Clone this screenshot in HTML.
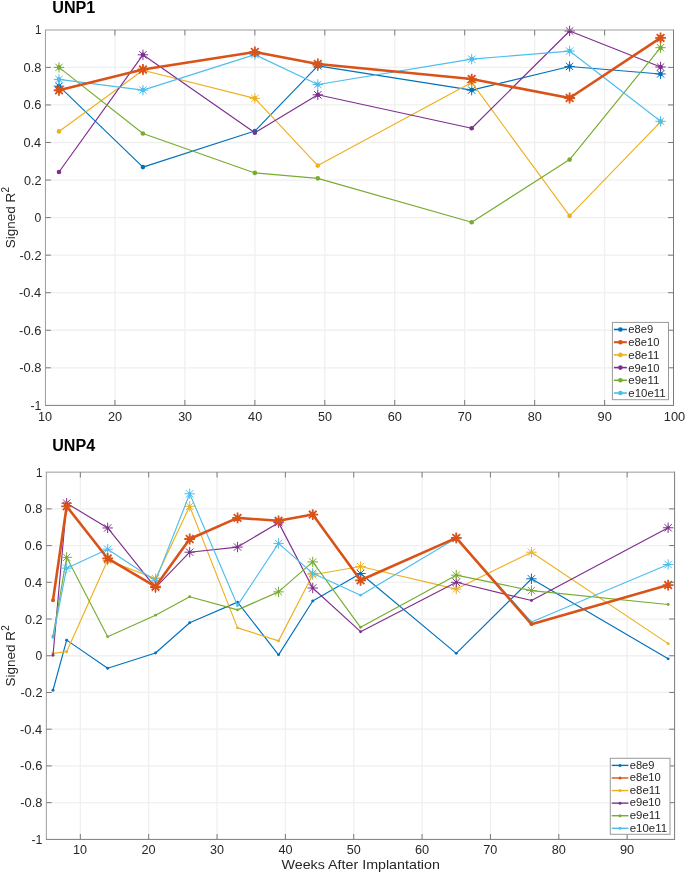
<!DOCTYPE html>
<html><head><meta charset="utf-8"><title>Signed R2</title>
<style>html,body{margin:0;padding:0;background:#fff;width:685px;height:873px;overflow:hidden}svg{display:block;will-change:transform}</style>
</head><body>
<svg width="685" height="873" viewBox="0 0 685 873">
<style>text{font-family:"Liberation Sans", sans-serif;fill:#262626}.ttl{font-weight:bold;fill:#000}.xl{font-size:13px}</style>
<path d="M114.95 30V405.4M184.9 30V405.4M254.85 30V405.4M324.8 30V405.4M394.75 30V405.4M464.7 30V405.4M534.65 30V405.4M604.6 30V405.4M45.45 67.4H673.5M45.45 104.95H673.5M45.45 142.5H673.5M45.45 180.05H673.5M45.45 217.6H673.5M45.45 255.15H673.5M45.45 292.7H673.5M45.45 330.25H673.5M45.45 367.8H673.5" stroke="#f0f0f0" stroke-width="1.3" fill="none"/>
<polyline points="58.99,86.18 142.93,167.1 254.85,131.05 317.8,65.9 471.69,90.12 569.62,66.46 660.56,73.97" fill="none" stroke="#0072BD" stroke-width="1.15" stroke-linejoin="round" stroke-linecap="round"/>
<circle cx="58.99" cy="86.18" r="2.3" fill="#0072BD"/>
<circle cx="142.93" cy="167.1" r="2.3" fill="#0072BD"/>
<circle cx="254.85" cy="131.05" r="2.3" fill="#0072BD"/>
<circle cx="317.8" cy="65.9" r="2.3" fill="#0072BD"/>
<circle cx="471.69" cy="90.12" r="2.3" fill="#0072BD"/>
<circle cx="569.62" cy="66.46" r="2.3" fill="#0072BD"/>
<circle cx="660.56" cy="73.97" r="2.3" fill="#0072BD"/>
<path d="M53.79 86.18H64.19 M58.99 80.98V91.38 M55.31 82.5L62.67 89.85 M55.31 89.85L62.67 82.5M312.6 65.9H323 M317.8 60.7V71.1 M314.13 62.22L321.48 69.57 M314.13 69.57L321.48 62.22M466.49 90.12H476.89 M471.69 84.92V95.32 M468.02 86.44L475.37 93.79 M468.02 93.79L475.37 86.44M564.42 66.46H574.83 M569.62 61.26V71.66 M565.95 62.78L573.3 70.14 M565.95 70.14L573.3 62.78M655.36 73.97H665.76 M660.56 68.77V79.17 M656.88 70.29L664.24 77.65 M656.88 77.65L664.24 70.29" stroke="#0072BD" stroke-width="1.0" fill="none"/>
<polyline points="58.99,131.42 142.93,70.22 254.85,98.38 317.8,165.59 471.69,82.42 569.62,215.91 660.56,121.85" fill="none" stroke="#EDB120" stroke-width="1.15" stroke-linejoin="round" stroke-linecap="round"/>
<circle cx="58.99" cy="131.42" r="2.3" fill="#EDB120"/>
<circle cx="142.93" cy="70.22" r="2.3" fill="#EDB120"/>
<circle cx="254.85" cy="98.38" r="2.3" fill="#EDB120"/>
<circle cx="317.8" cy="165.59" r="2.3" fill="#EDB120"/>
<circle cx="471.69" cy="82.42" r="2.3" fill="#EDB120"/>
<circle cx="569.62" cy="215.91" r="2.3" fill="#EDB120"/>
<circle cx="660.56" cy="121.85" r="2.3" fill="#EDB120"/>
<path d="M137.73 70.22H148.13 M142.93 65.02V75.42 M139.25 66.54L146.61 73.89 M139.25 73.89L146.61 66.54M249.65 98.38H260.05 M254.85 93.18V103.58 M251.17 94.7L258.53 102.06 M251.17 102.06L258.53 94.7M466.49 82.42H476.89 M471.69 77.22V87.62 M468.02 78.74L475.37 86.1 M468.02 86.1L475.37 78.74" stroke="#EDB120" stroke-width="1.0" fill="none"/>
<polyline points="58.99,171.98 142.93,54.82 254.85,132.74 317.8,94.81 471.69,128.23 569.62,30.98 660.56,67.02" fill="none" stroke="#7E2F8E" stroke-width="1.15" stroke-linejoin="round" stroke-linecap="round"/>
<circle cx="58.99" cy="171.98" r="2.3" fill="#7E2F8E"/>
<circle cx="142.93" cy="54.82" r="2.3" fill="#7E2F8E"/>
<circle cx="254.85" cy="132.74" r="2.3" fill="#7E2F8E"/>
<circle cx="317.8" cy="94.81" r="2.3" fill="#7E2F8E"/>
<circle cx="471.69" cy="128.23" r="2.3" fill="#7E2F8E"/>
<circle cx="569.62" cy="30.98" r="2.3" fill="#7E2F8E"/>
<circle cx="660.56" cy="67.02" r="2.3" fill="#7E2F8E"/>
<path d="M137.73 54.82H148.13 M142.93 49.62V60.02 M139.25 51.14L146.61 58.5 M139.25 58.5L146.61 51.14M312.6 94.81H323 M317.8 89.61V100.01 M314.13 91.13L321.48 98.49 M314.13 98.49L321.48 91.13M564.42 30.98H574.83 M569.62 25.78V36.18 M565.95 27.3L573.3 34.65 M565.95 34.65L573.3 27.3M655.36 67.02H665.76 M660.56 61.82V72.22 M656.88 63.35L664.24 70.7 M656.88 70.7L664.24 63.35" stroke="#7E2F8E" stroke-width="1.0" fill="none"/>
<polyline points="58.99,67.4 142.93,133.49 254.85,172.92 317.8,178.36 471.69,222.29 569.62,159.59 660.56,47.69" fill="none" stroke="#77AC30" stroke-width="1.15" stroke-linejoin="round" stroke-linecap="round"/>
<circle cx="58.99" cy="67.4" r="2.3" fill="#77AC30"/>
<circle cx="142.93" cy="133.49" r="2.3" fill="#77AC30"/>
<circle cx="254.85" cy="172.92" r="2.3" fill="#77AC30"/>
<circle cx="317.8" cy="178.36" r="2.3" fill="#77AC30"/>
<circle cx="471.69" cy="222.29" r="2.3" fill="#77AC30"/>
<circle cx="569.62" cy="159.59" r="2.3" fill="#77AC30"/>
<circle cx="660.56" cy="47.69" r="2.3" fill="#77AC30"/>
<path d="M53.79 67.4H64.19 M58.99 62.2V72.6 M55.31 63.72L62.67 71.08 M55.31 71.08L62.67 63.72M655.36 47.69H665.76 M660.56 42.49V52.89 M656.88 44.01L664.24 51.36 M656.88 51.36L664.24 44.01" stroke="#77AC30" stroke-width="1.0" fill="none"/>
<polyline points="58.99,79.42 142.93,90.12 254.85,54.63 317.8,84.49 471.69,59.14 569.62,51.07 660.56,121.28" fill="none" stroke="#4DBEEE" stroke-width="1.15" stroke-linejoin="round" stroke-linecap="round"/>
<circle cx="58.99" cy="79.42" r="2.3" fill="#4DBEEE"/>
<circle cx="142.93" cy="90.12" r="2.3" fill="#4DBEEE"/>
<circle cx="254.85" cy="54.63" r="2.3" fill="#4DBEEE"/>
<circle cx="317.8" cy="84.49" r="2.3" fill="#4DBEEE"/>
<circle cx="471.69" cy="59.14" r="2.3" fill="#4DBEEE"/>
<circle cx="569.62" cy="51.07" r="2.3" fill="#4DBEEE"/>
<circle cx="660.56" cy="121.28" r="2.3" fill="#4DBEEE"/>
<path d="M53.79 79.42H64.19 M58.99 74.22V84.62 M55.31 75.74L62.67 83.09 M55.31 83.09L62.67 75.74M137.73 90.12H148.13 M142.93 84.92V95.32 M139.25 86.44L146.61 93.79 M139.25 93.79L146.61 86.44M249.65 54.63H260.05 M254.85 49.43V59.83 M251.17 50.96L258.53 58.31 M251.17 58.31L258.53 50.96M312.6 84.49H323 M317.8 79.29V89.69 M314.13 80.81L321.48 88.16 M314.13 88.16L321.48 80.81M466.49 59.14H476.89 M471.69 53.94V64.34 M468.02 55.46L475.37 62.82 M468.02 62.82L475.37 55.46M564.42 51.07H574.83 M569.62 45.87V56.27 M565.95 47.39L573.3 54.74 M565.95 54.74L573.3 47.39M655.36 121.28H665.76 M660.56 116.08V126.48 M656.88 117.61L664.24 124.96 M656.88 124.96L664.24 117.61" stroke="#4DBEEE" stroke-width="1.0" fill="none"/>
<polyline points="58.99,90.31 142.93,69.47 254.85,52 317.8,64.02 471.69,79.04 569.62,98 660.56,37.92" fill="none" stroke="#D95319" stroke-width="2.6" stroke-linejoin="round" stroke-linecap="round"/>
<circle cx="58.99" cy="90.31" r="2.8" fill="#D95319"/>
<circle cx="142.93" cy="69.47" r="2.8" fill="#D95319"/>
<circle cx="254.85" cy="52" r="2.8" fill="#D95319"/>
<circle cx="317.8" cy="64.02" r="2.8" fill="#D95319"/>
<circle cx="471.69" cy="79.04" r="2.8" fill="#D95319"/>
<circle cx="569.62" cy="98" r="2.8" fill="#D95319"/>
<circle cx="660.56" cy="37.92" r="2.8" fill="#D95319"/>
<path d="M53.59 90.31H64.39 M58.99 84.91V95.71 M55.17 86.49L62.81 94.12 M55.17 94.12L62.81 86.49M137.53 69.47H148.33 M142.93 64.07V74.87 M139.11 65.65L146.75 73.28 M139.11 73.28L146.75 65.65M249.45 52H260.25 M254.85 46.6V57.4 M251.03 48.19L258.67 55.82 M251.03 55.82L258.67 48.19M312.4 64.02H323.2 M317.8 58.62V69.42 M313.99 60.2L321.62 67.84 M313.99 67.84L321.62 60.2M466.29 79.04H477.09 M471.69 73.64V84.44 M467.88 75.22L475.51 82.86 M467.88 82.86L475.51 75.22M564.23 98H575.02 M569.62 92.6V103.4 M565.81 94.18L573.44 101.82 M565.81 101.82L573.44 94.18M655.16 37.92H665.96 M660.56 32.52V43.32 M656.74 34.1L664.38 41.74 M656.74 41.74L664.38 34.1" stroke="#D95319" stroke-width="1.8" fill="none"/>
<path d="M44.95 405.4H674 M673.5 29.5V405.4" stroke="#7a7a7a" stroke-width="1" fill="none"/>
<path d="M44.95 30H673.5 M45.45 30V405.4" stroke="#9c9c9c" stroke-width="1" fill="none"/>
<path d="M114.95 405.4V400 M114.95 30V35.4M184.9 405.4V400 M184.9 30V35.4M254.85 405.4V400 M254.85 30V35.4M324.8 405.4V400 M324.8 30V35.4M394.75 405.4V400 M394.75 30V35.4M464.7 405.4V400 M464.7 30V35.4M534.65 405.4V400 M534.65 30V35.4M604.6 405.4V400 M604.6 30V35.4M45.45 67.4H50.85 M673.5 67.4H668.1M45.45 104.95H50.85 M673.5 104.95H668.1M45.45 142.5H50.85 M673.5 142.5H668.1M45.45 180.05H50.85 M673.5 180.05H668.1M45.45 217.6H50.85 M673.5 217.6H668.1M45.45 255.15H50.85 M673.5 255.15H668.1M45.45 292.7H50.85 M673.5 292.7H668.1M45.45 330.25H50.85 M673.5 330.25H668.1M45.45 367.8H50.85 M673.5 367.8H668.1" stroke="#7a7a7a" stroke-width="1" fill="none"/>
<text x="34.98" y="34.35" class="tk" font-size="12.6" textLength="6.44" lengthAdjust="spacingAndGlyphs">1</text>
<text x="23.61" y="71.90" class="tk" font-size="12.6" textLength="17.80" lengthAdjust="spacingAndGlyphs">0.8</text>
<text x="23.54" y="109.45" class="tk" font-size="12.6" textLength="17.87" lengthAdjust="spacingAndGlyphs">0.6</text>
<text x="23.47" y="147.00" class="tk" font-size="12.6" textLength="17.76" lengthAdjust="spacingAndGlyphs">0.4</text>
<text x="23.98" y="184.55" class="tk" font-size="12.6" textLength="17.50" lengthAdjust="spacingAndGlyphs">0.2</text>
<text x="34.58" y="222.10" class="tk" font-size="12.6" textLength="6.74" lengthAdjust="spacingAndGlyphs">0</text>
<text x="19.56" y="259.65" class="tk" font-size="12.6" textLength="21.93" lengthAdjust="spacingAndGlyphs">-0.2</text>
<text x="19.05" y="297.20" class="tk" font-size="12.6" textLength="22.18" lengthAdjust="spacingAndGlyphs">-0.4</text>
<text x="19.12" y="334.75" class="tk" font-size="12.6" textLength="22.30" lengthAdjust="spacingAndGlyphs">-0.6</text>
<text x="19.19" y="372.30" class="tk" font-size="12.6" textLength="22.22" lengthAdjust="spacingAndGlyphs">-0.8</text>
<text x="30.46" y="409.85" class="tk" font-size="12.6" textLength="11.00" lengthAdjust="spacingAndGlyphs">-1</text>
<text x="37.93" y="420.70" class="tk" font-size="12.6" textLength="14.06" lengthAdjust="spacingAndGlyphs">10</text>
<text x="108.00" y="420.70" class="tk" font-size="12.6" textLength="14.17" lengthAdjust="spacingAndGlyphs">20</text>
<text x="178.13" y="420.70" class="tk" font-size="12.6" textLength="13.96" lengthAdjust="spacingAndGlyphs">30</text>
<text x="248.11" y="420.70" class="tk" font-size="12.6" textLength="14.09" lengthAdjust="spacingAndGlyphs">40</text>
<text x="318.01" y="420.70" class="tk" font-size="12.6" textLength="13.98" lengthAdjust="spacingAndGlyphs">50</text>
<text x="387.77" y="420.70" class="tk" font-size="12.6" textLength="14.21" lengthAdjust="spacingAndGlyphs">60</text>
<text x="457.79" y="420.70" class="tk" font-size="12.6" textLength="14.07" lengthAdjust="spacingAndGlyphs">70</text>
<text x="527.75" y="420.70" class="tk" font-size="12.6" textLength="14.14" lengthAdjust="spacingAndGlyphs">80</text>
<text x="597.63" y="420.70" class="tk" font-size="12.6" textLength="14.25" lengthAdjust="spacingAndGlyphs">90</text>
<text x="663.81" y="420.70" class="tk" font-size="12.6" textLength="21.40" lengthAdjust="spacingAndGlyphs">100</text>
<text x="52.23" y="13.00" class="ttl" font-size="15.6" textLength="43.12" lengthAdjust="spacingAndGlyphs">UNP1</text>
<g transform="translate(14.6 247.65) rotate(-90)"><text x="-0.61" y="0.00" class="yl" font-size="13" textLength="55.44" lengthAdjust="spacingAndGlyphs">Signed R</text><text x="55.10" y="-5.80" class="sup" font-size="10.5" textLength="5.49" lengthAdjust="spacingAndGlyphs">2</text></g>
<rect x="612.4" y="322.4" width="56.1" height="77.3" fill="#fff" stroke="#9a9a9a" stroke-width="1"/>
<path d="M613.9 329.5H626.9" stroke="#0072BD" stroke-width="1.6"/>
<circle cx="620.4" cy="329.5" r="2.3" fill="#0072BD"/>
<text x="628.33" y="333.40" class="lg" font-size="10.0" textLength="24.77" lengthAdjust="spacingAndGlyphs">e8e9</text>
<path d="M613.9 342.2H626.9" stroke="#D95319" stroke-width="2.08"/>
<circle cx="620.4" cy="342.2" r="2.3" fill="#D95319"/>
<text x="628.33" y="346.10" class="lg" font-size="10.0" textLength="31.09" lengthAdjust="spacingAndGlyphs">e8e10</text>
<path d="M613.9 354.9H626.9" stroke="#EDB120" stroke-width="1.6"/>
<circle cx="620.4" cy="354.9" r="2.3" fill="#EDB120"/>
<text x="628.33" y="358.80" class="lg" font-size="10.0" textLength="30.93" lengthAdjust="spacingAndGlyphs">e8e11</text>
<path d="M613.9 367.6H626.9" stroke="#7E2F8E" stroke-width="1.6"/>
<circle cx="620.4" cy="367.6" r="2.3" fill="#7E2F8E"/>
<text x="628.33" y="371.50" class="lg" font-size="10.0" textLength="31.09" lengthAdjust="spacingAndGlyphs">e9e10</text>
<path d="M613.9 380.3H626.9" stroke="#77AC30" stroke-width="1.6"/>
<circle cx="620.4" cy="380.3" r="2.3" fill="#77AC30"/>
<text x="628.33" y="384.20" class="lg" font-size="10.0" textLength="30.93" lengthAdjust="spacingAndGlyphs">e9e11</text>
<path d="M613.9 393H626.9" stroke="#4DBEEE" stroke-width="1.6"/>
<circle cx="620.4" cy="393" r="2.3" fill="#4DBEEE"/>
<text x="628.33" y="396.90" class="lg" font-size="10.0" textLength="37.30" lengthAdjust="spacingAndGlyphs">e10e11</text>
<path d="M80.34 472.15V839.4M148.69 472.15V839.4M217.04 472.15V839.4M285.38 472.15V839.4M353.74 472.15V839.4M422.09 472.15V839.4M490.44 472.15V839.4M558.79 472.15V839.4M627.13 472.15V839.4M46.35 508.87H674.6M46.35 545.59H674.6M46.35 582.31H674.6M46.35 619.03H674.6M46.35 655.75H674.6M46.35 692.47H674.6M46.35 729.19H674.6M46.35 765.91H674.6M46.35 802.63H674.6" stroke="#f0f0f0" stroke-width="1.3" fill="none"/>
<polyline points="52.99,690.27 66.66,640.14 107.67,668.23 155.52,653 189.7,622.7 237.54,602.14 278.55,654.83 312.73,601.04 360.57,573.5 456.26,653.36 531.45,578.82 668.14,658.87" fill="none" stroke="#0072BD" stroke-width="1.15" stroke-linejoin="round" stroke-linecap="round"/>
<circle cx="52.99" cy="690.27" r="1.45" fill="#0072BD"/>
<circle cx="66.66" cy="640.14" r="1.45" fill="#0072BD"/>
<circle cx="107.67" cy="668.23" r="1.45" fill="#0072BD"/>
<circle cx="155.52" cy="653" r="1.45" fill="#0072BD"/>
<circle cx="189.7" cy="622.7" r="1.45" fill="#0072BD"/>
<circle cx="237.54" cy="602.14" r="1.45" fill="#0072BD"/>
<circle cx="278.55" cy="654.83" r="1.45" fill="#0072BD"/>
<circle cx="312.73" cy="601.04" r="1.45" fill="#0072BD"/>
<circle cx="360.57" cy="573.5" r="1.45" fill="#0072BD"/>
<circle cx="456.26" cy="653.36" r="1.45" fill="#0072BD"/>
<circle cx="531.45" cy="578.82" r="1.45" fill="#0072BD"/>
<circle cx="668.14" cy="658.87" r="1.45" fill="#0072BD"/>
<path d="M355.37 573.5H365.77 M360.57 568.3V578.7 M356.89 569.82L364.25 577.17 M356.89 577.17L364.25 569.82M526.25 578.82H536.65 M531.45 573.62V584.02 M527.77 575.14L535.12 582.5 M527.77 582.5L535.12 575.14" stroke="#0072BD" stroke-width="1.0" fill="none"/>
<polyline points="52.99,653.36 66.66,651.71 107.67,560.28 155.52,578.64 189.7,506.3 237.54,627.84 278.55,640.88 312.73,574.78 360.57,566.52 456.26,589.1 531.45,552.2 668.14,643.63" fill="none" stroke="#EDB120" stroke-width="1.15" stroke-linejoin="round" stroke-linecap="round"/>
<circle cx="52.99" cy="653.36" r="1.45" fill="#EDB120"/>
<circle cx="66.66" cy="651.71" r="1.45" fill="#EDB120"/>
<circle cx="107.67" cy="560.28" r="1.45" fill="#EDB120"/>
<circle cx="155.52" cy="578.64" r="1.45" fill="#EDB120"/>
<circle cx="189.7" cy="506.3" r="1.45" fill="#EDB120"/>
<circle cx="237.54" cy="627.84" r="1.45" fill="#EDB120"/>
<circle cx="278.55" cy="640.88" r="1.45" fill="#EDB120"/>
<circle cx="312.73" cy="574.78" r="1.45" fill="#EDB120"/>
<circle cx="360.57" cy="566.52" r="1.45" fill="#EDB120"/>
<circle cx="456.26" cy="589.1" r="1.45" fill="#EDB120"/>
<circle cx="531.45" cy="552.2" r="1.45" fill="#EDB120"/>
<circle cx="668.14" cy="643.63" r="1.45" fill="#EDB120"/>
<path d="M102.47 560.28H112.88 M107.67 555.08V565.48 M104 556.6L111.35 563.95 M104 563.95L111.35 556.6M150.32 578.64H160.72 M155.52 573.44V583.84 M151.84 574.96L159.2 582.31 M151.84 582.31L159.2 574.96M184.5 506.3H194.9 M189.7 501.1V511.5 M186.02 502.62L193.37 509.98 M186.02 509.98L193.37 502.62M307.53 574.78H317.93 M312.73 569.58V579.98 M309.05 571.11L316.4 578.46 M309.05 578.46L316.4 571.11M355.37 566.52H365.77 M360.57 561.32V571.72 M356.89 562.84L364.25 570.2 M356.89 570.2L364.25 562.84M451.06 589.1H461.46 M456.26 583.9V594.3 M452.58 585.43L459.94 592.78 M452.58 592.78L459.94 585.43M526.25 552.2H536.65 M531.45 547V557.4 M527.77 548.52L535.12 555.88 M527.77 555.88L535.12 548.52" stroke="#EDB120" stroke-width="1.0" fill="none"/>
<polyline points="52.99,655.2 66.66,503.18 107.67,527.96 155.52,587.63 189.7,552.2 237.54,547.06 278.55,522.64 312.73,588 360.57,631.7 456.26,582.31 531.45,600.49 668.14,527.78" fill="none" stroke="#7E2F8E" stroke-width="1.15" stroke-linejoin="round" stroke-linecap="round"/>
<circle cx="52.99" cy="655.2" r="1.45" fill="#7E2F8E"/>
<circle cx="66.66" cy="503.18" r="1.45" fill="#7E2F8E"/>
<circle cx="107.67" cy="527.96" r="1.45" fill="#7E2F8E"/>
<circle cx="155.52" cy="587.63" r="1.45" fill="#7E2F8E"/>
<circle cx="189.7" cy="552.2" r="1.45" fill="#7E2F8E"/>
<circle cx="237.54" cy="547.06" r="1.45" fill="#7E2F8E"/>
<circle cx="278.55" cy="522.64" r="1.45" fill="#7E2F8E"/>
<circle cx="312.73" cy="588" r="1.45" fill="#7E2F8E"/>
<circle cx="360.57" cy="631.7" r="1.45" fill="#7E2F8E"/>
<circle cx="456.26" cy="582.31" r="1.45" fill="#7E2F8E"/>
<circle cx="531.45" cy="600.49" r="1.45" fill="#7E2F8E"/>
<circle cx="668.14" cy="527.78" r="1.45" fill="#7E2F8E"/>
<path d="M61.46 503.18H71.86 M66.66 497.98V508.38 M62.99 499.5L70.34 506.86 M62.99 506.86L70.34 499.5M102.47 527.96H112.88 M107.67 522.76V533.16 M104 524.29L111.35 531.64 M104 531.64L111.35 524.29M150.32 587.63H160.72 M155.52 582.43V592.83 M151.84 583.96L159.2 591.31 M151.84 591.31L159.2 583.96M184.5 552.2H194.9 M189.7 547V557.4 M186.02 548.52L193.37 555.88 M186.02 555.88L193.37 548.52M232.34 547.06H242.74 M237.54 541.86V552.26 M233.86 543.38L241.22 550.74 M233.86 550.74L241.22 543.38M273.35 522.64H283.75 M278.55 517.44V527.84 M274.87 518.96L282.23 526.32 M274.87 526.32L282.23 518.96M307.53 588H317.93 M312.73 582.8V593.2 M309.05 584.32L316.4 591.68 M309.05 591.68L316.4 584.32M451.06 582.31H461.46 M456.26 577.11V587.51 M452.58 578.63L459.94 585.99 M452.58 585.99L459.94 578.63M662.94 527.78H673.35 M668.14 522.58V532.98 M664.47 524.1L671.82 531.46 M664.47 531.46L671.82 524.1" stroke="#7E2F8E" stroke-width="1.0" fill="none"/>
<polyline points="52.99,636.1 66.66,557.34 107.67,636.66 155.52,615.17 189.7,596.81 237.54,609.85 278.55,591.86 312.73,561.93 360.57,627.29 456.26,575.15 531.45,590.57 668.14,604.53" fill="none" stroke="#77AC30" stroke-width="1.15" stroke-linejoin="round" stroke-linecap="round"/>
<circle cx="52.99" cy="636.1" r="1.45" fill="#77AC30"/>
<circle cx="66.66" cy="557.34" r="1.45" fill="#77AC30"/>
<circle cx="107.67" cy="636.66" r="1.45" fill="#77AC30"/>
<circle cx="155.52" cy="615.17" r="1.45" fill="#77AC30"/>
<circle cx="189.7" cy="596.81" r="1.45" fill="#77AC30"/>
<circle cx="237.54" cy="609.85" r="1.45" fill="#77AC30"/>
<circle cx="278.55" cy="591.86" r="1.45" fill="#77AC30"/>
<circle cx="312.73" cy="561.93" r="1.45" fill="#77AC30"/>
<circle cx="360.57" cy="627.29" r="1.45" fill="#77AC30"/>
<circle cx="456.26" cy="575.15" r="1.45" fill="#77AC30"/>
<circle cx="531.45" cy="590.57" r="1.45" fill="#77AC30"/>
<circle cx="668.14" cy="604.53" r="1.45" fill="#77AC30"/>
<path d="M61.46 557.34H71.86 M66.66 552.14V562.54 M62.99 553.66L70.34 561.02 M62.99 561.02L70.34 553.66M273.35 591.86H283.75 M278.55 586.66V597.06 M274.87 588.18L282.23 595.53 M274.87 595.53L282.23 588.18M307.53 561.93H317.93 M312.73 556.73V567.13 M309.05 558.25L316.4 565.61 M309.05 565.61L316.4 558.25M451.06 575.15H461.46 M456.26 569.95V580.35 M452.58 571.47L459.94 578.83 M452.58 578.83L459.94 571.47M526.25 590.57H536.65 M531.45 585.37V595.77 M527.77 586.9L535.12 594.25 M527.77 594.25L535.12 586.9" stroke="#77AC30" stroke-width="1.0" fill="none"/>
<polyline points="52.99,637.39 66.66,568.17 107.67,549.26 155.52,580.84 189.7,493.81 237.54,605.44 278.55,543.39 312.73,573.31 360.57,595.16 456.26,538.25 531.45,621.97 668.14,564.5" fill="none" stroke="#4DBEEE" stroke-width="1.15" stroke-linejoin="round" stroke-linecap="round"/>
<circle cx="52.99" cy="637.39" r="1.45" fill="#4DBEEE"/>
<circle cx="66.66" cy="568.17" r="1.45" fill="#4DBEEE"/>
<circle cx="107.67" cy="549.26" r="1.45" fill="#4DBEEE"/>
<circle cx="155.52" cy="580.84" r="1.45" fill="#4DBEEE"/>
<circle cx="189.7" cy="493.81" r="1.45" fill="#4DBEEE"/>
<circle cx="237.54" cy="605.44" r="1.45" fill="#4DBEEE"/>
<circle cx="278.55" cy="543.39" r="1.45" fill="#4DBEEE"/>
<circle cx="312.73" cy="573.31" r="1.45" fill="#4DBEEE"/>
<circle cx="360.57" cy="595.16" r="1.45" fill="#4DBEEE"/>
<circle cx="456.26" cy="538.25" r="1.45" fill="#4DBEEE"/>
<circle cx="531.45" cy="621.97" r="1.45" fill="#4DBEEE"/>
<circle cx="668.14" cy="564.5" r="1.45" fill="#4DBEEE"/>
<path d="M61.46 568.17H71.86 M66.66 562.97V573.37 M62.99 564.5L70.34 571.85 M62.99 571.85L70.34 564.5M102.47 549.26H112.88 M107.67 544.06V554.46 M104 545.59L111.35 552.94 M104 552.94L111.35 545.59M150.32 580.84H160.72 M155.52 575.64V586.04 M151.84 577.16L159.2 584.52 M151.84 584.52L159.2 577.16M184.5 493.81H194.9 M189.7 488.61V499.01 M186.02 490.14L193.37 497.49 M186.02 497.49L193.37 490.14M273.35 543.39H283.75 M278.55 538.19V548.59 M274.87 539.71L282.23 547.06 M274.87 547.06L282.23 539.71M307.53 573.31H317.93 M312.73 568.11V578.51 M309.05 569.64L316.4 576.99 M309.05 576.99L316.4 569.64M451.06 538.25H461.46 M456.26 533.05V543.45 M452.58 534.57L459.94 541.92 M452.58 541.92L459.94 534.57M662.94 564.5H673.35 M668.14 559.3V569.7 M664.47 560.82L671.82 568.18 M664.47 568.18L671.82 560.82" stroke="#4DBEEE" stroke-width="1.0" fill="none"/>
<polyline points="52.99,600.3 66.66,506.3 107.67,558.44 155.52,586.53 189.7,538.98 237.54,517.87 278.55,520.8 312.73,514.56 360.57,580.29 456.26,537.88 531.45,624.17 668.14,585.06" fill="none" stroke="#D95319" stroke-width="2.6" stroke-linejoin="round" stroke-linecap="round"/>
<circle cx="52.99" cy="600.3" r="1.95" fill="#D95319"/>
<circle cx="66.66" cy="506.3" r="1.95" fill="#D95319"/>
<circle cx="107.67" cy="558.44" r="1.95" fill="#D95319"/>
<circle cx="155.52" cy="586.53" r="1.95" fill="#D95319"/>
<circle cx="189.7" cy="538.98" r="1.95" fill="#D95319"/>
<circle cx="237.54" cy="517.87" r="1.95" fill="#D95319"/>
<circle cx="278.55" cy="520.8" r="1.95" fill="#D95319"/>
<circle cx="312.73" cy="514.56" r="1.95" fill="#D95319"/>
<circle cx="360.57" cy="580.29" r="1.95" fill="#D95319"/>
<circle cx="456.26" cy="537.88" r="1.95" fill="#D95319"/>
<circle cx="531.45" cy="624.17" r="1.95" fill="#D95319"/>
<circle cx="668.14" cy="585.06" r="1.95" fill="#D95319"/>
<path d="M61.26 506.3H72.06 M66.66 500.9V511.7 M62.85 502.48L70.48 510.12 M62.85 510.12L70.48 502.48M102.27 558.44H113.08 M107.67 553.04V563.84 M103.86 554.62L111.49 562.26 M103.86 562.26L111.49 554.62M150.12 586.53H160.92 M155.52 581.13V591.93 M151.7 582.71L159.34 590.35 M151.7 590.35L159.34 582.71M184.3 538.98H195.1 M189.7 533.58V544.38 M185.88 535.16L193.51 542.8 M185.88 542.8L193.51 535.16M232.14 517.87H242.94 M237.54 512.47V523.27 M233.72 514.05L241.36 521.68 M233.72 521.68L241.36 514.05M273.15 520.8H283.95 M278.55 515.4V526.2 M274.73 516.99L282.37 524.62 M274.73 524.62L282.37 516.99M307.33 514.56H318.12 M312.73 509.16V519.96 M308.91 510.74L316.54 518.38 M308.91 518.38L316.54 510.74M355.17 580.29H365.97 M360.57 574.89V585.69 M356.75 576.47L364.39 584.11 M356.75 584.11L364.39 576.47M450.86 537.88H461.66 M456.26 532.48V543.28 M452.44 534.06L460.08 541.7 M452.44 541.7L460.08 534.06M662.75 585.06H673.54 M668.14 579.66V590.46 M664.33 581.25L671.96 588.88 M664.33 588.88L671.96 581.25" stroke="#D95319" stroke-width="1.8" fill="none"/>
<path d="M45.85 839.4H675.1 M674.6 471.65V839.4" stroke="#7a7a7a" stroke-width="1" fill="none"/>
<path d="M45.85 472.15H674.6 M46.35 472.15V839.4" stroke="#9c9c9c" stroke-width="1" fill="none"/>
<path d="M80.34 839.4V834 M80.34 472.15V477.55M148.69 839.4V834 M148.69 472.15V477.55M217.04 839.4V834 M217.04 472.15V477.55M285.38 839.4V834 M285.38 472.15V477.55M353.74 839.4V834 M353.74 472.15V477.55M422.09 839.4V834 M422.09 472.15V477.55M490.44 839.4V834 M490.44 472.15V477.55M558.79 839.4V834 M558.79 472.15V477.55M627.13 839.4V834 M627.13 472.15V477.55M46.35 508.87H51.75 M674.6 508.87H669.2M46.35 545.59H51.75 M674.6 545.59H669.2M46.35 582.31H51.75 M674.6 582.31H669.2M46.35 619.03H51.75 M674.6 619.03H669.2M46.35 655.75H51.75 M674.6 655.75H669.2M46.35 692.47H51.75 M674.6 692.47H669.2M46.35 729.19H51.75 M674.6 729.19H669.2M46.35 765.91H51.75 M674.6 765.91H669.2M46.35 802.63H51.75 M674.6 802.63H669.2" stroke="#7a7a7a" stroke-width="1" fill="none"/>
<text x="35.98" y="476.65" class="tk" font-size="12.6" textLength="6.44" lengthAdjust="spacingAndGlyphs">1</text>
<text x="24.61" y="513.37" class="tk" font-size="12.6" textLength="17.80" lengthAdjust="spacingAndGlyphs">0.8</text>
<text x="24.54" y="550.09" class="tk" font-size="12.6" textLength="17.87" lengthAdjust="spacingAndGlyphs">0.6</text>
<text x="24.47" y="586.81" class="tk" font-size="12.6" textLength="17.76" lengthAdjust="spacingAndGlyphs">0.4</text>
<text x="24.98" y="623.53" class="tk" font-size="12.6" textLength="17.50" lengthAdjust="spacingAndGlyphs">0.2</text>
<text x="35.58" y="660.25" class="tk" font-size="12.6" textLength="6.74" lengthAdjust="spacingAndGlyphs">0</text>
<text x="20.56" y="696.97" class="tk" font-size="12.6" textLength="21.93" lengthAdjust="spacingAndGlyphs">-0.2</text>
<text x="20.05" y="733.69" class="tk" font-size="12.6" textLength="22.18" lengthAdjust="spacingAndGlyphs">-0.4</text>
<text x="20.12" y="770.41" class="tk" font-size="12.6" textLength="22.30" lengthAdjust="spacingAndGlyphs">-0.6</text>
<text x="20.19" y="807.13" class="tk" font-size="12.6" textLength="22.22" lengthAdjust="spacingAndGlyphs">-0.8</text>
<text x="31.46" y="843.85" class="tk" font-size="12.6" textLength="11.00" lengthAdjust="spacingAndGlyphs">-1</text>
<text x="73.07" y="854.00" class="tk" font-size="12.6" textLength="14.06" lengthAdjust="spacingAndGlyphs">10</text>
<text x="141.53" y="854.00" class="tk" font-size="12.6" textLength="14.17" lengthAdjust="spacingAndGlyphs">20</text>
<text x="210.06" y="854.00" class="tk" font-size="12.6" textLength="13.96" lengthAdjust="spacingAndGlyphs">30</text>
<text x="278.44" y="854.00" class="tk" font-size="12.6" textLength="14.09" lengthAdjust="spacingAndGlyphs">40</text>
<text x="346.74" y="854.00" class="tk" font-size="12.6" textLength="13.98" lengthAdjust="spacingAndGlyphs">50</text>
<text x="414.90" y="854.00" class="tk" font-size="12.6" textLength="14.21" lengthAdjust="spacingAndGlyphs">60</text>
<text x="483.32" y="854.00" class="tk" font-size="12.6" textLength="14.07" lengthAdjust="spacingAndGlyphs">70</text>
<text x="551.69" y="854.00" class="tk" font-size="12.6" textLength="14.14" lengthAdjust="spacingAndGlyphs">80</text>
<text x="619.96" y="854.00" class="tk" font-size="12.6" textLength="14.25" lengthAdjust="spacingAndGlyphs">90</text>
<text x="52.23" y="451.00" class="ttl" font-size="15.6" textLength="42.95" lengthAdjust="spacingAndGlyphs">UNP4</text>
<g transform="translate(14.6 685.8) rotate(-90)"><text x="-0.61" y="0.00" class="yl" font-size="13" textLength="55.44" lengthAdjust="spacingAndGlyphs">Signed R</text><text x="55.10" y="-5.80" class="sup" font-size="10.5" textLength="5.49" lengthAdjust="spacingAndGlyphs">2</text></g>
<rect x="610.3" y="758.3" width="59.7" height="76" fill="#fff" stroke="#9a9a9a" stroke-width="1"/>
<path d="M611.7 765.4H628.4" stroke="#0072BD" stroke-width="1.4"/>
<circle cx="620.05" cy="765.4" r="1.5" fill="#0072BD"/>
<text x="629.73" y="768.60" class="lg" font-size="10.0" textLength="24.77" lengthAdjust="spacingAndGlyphs">e8e9</text>
<path d="M611.7 777.98H628.4" stroke="#D95319" stroke-width="1.4"/>
<circle cx="620.05" cy="777.98" r="1.5" fill="#D95319"/>
<text x="629.73" y="781.18" class="lg" font-size="10.0" textLength="31.09" lengthAdjust="spacingAndGlyphs">e8e10</text>
<path d="M611.7 790.56H628.4" stroke="#EDB120" stroke-width="1.4"/>
<circle cx="620.05" cy="790.56" r="1.5" fill="#EDB120"/>
<text x="629.73" y="793.76" class="lg" font-size="10.0" textLength="30.93" lengthAdjust="spacingAndGlyphs">e8e11</text>
<path d="M611.7 803.14H628.4" stroke="#7E2F8E" stroke-width="1.4"/>
<circle cx="620.05" cy="803.14" r="1.5" fill="#7E2F8E"/>
<text x="629.73" y="806.34" class="lg" font-size="10.0" textLength="31.09" lengthAdjust="spacingAndGlyphs">e9e10</text>
<path d="M611.7 815.72H628.4" stroke="#77AC30" stroke-width="1.4"/>
<circle cx="620.05" cy="815.72" r="1.5" fill="#77AC30"/>
<text x="629.73" y="818.92" class="lg" font-size="10.0" textLength="30.93" lengthAdjust="spacingAndGlyphs">e9e11</text>
<path d="M611.7 828.3H628.4" stroke="#4DBEEE" stroke-width="1.4"/>
<circle cx="620.05" cy="828.3" r="1.5" fill="#4DBEEE"/>
<text x="629.73" y="831.50" class="lg" font-size="10.0" textLength="37.30" lengthAdjust="spacingAndGlyphs">e10e11</text>
<text x="281.54" y="868.80" class="xl" font-size="13" textLength="158.38" lengthAdjust="spacingAndGlyphs">Weeks After Implantation</text>
</svg>
</body></html>
